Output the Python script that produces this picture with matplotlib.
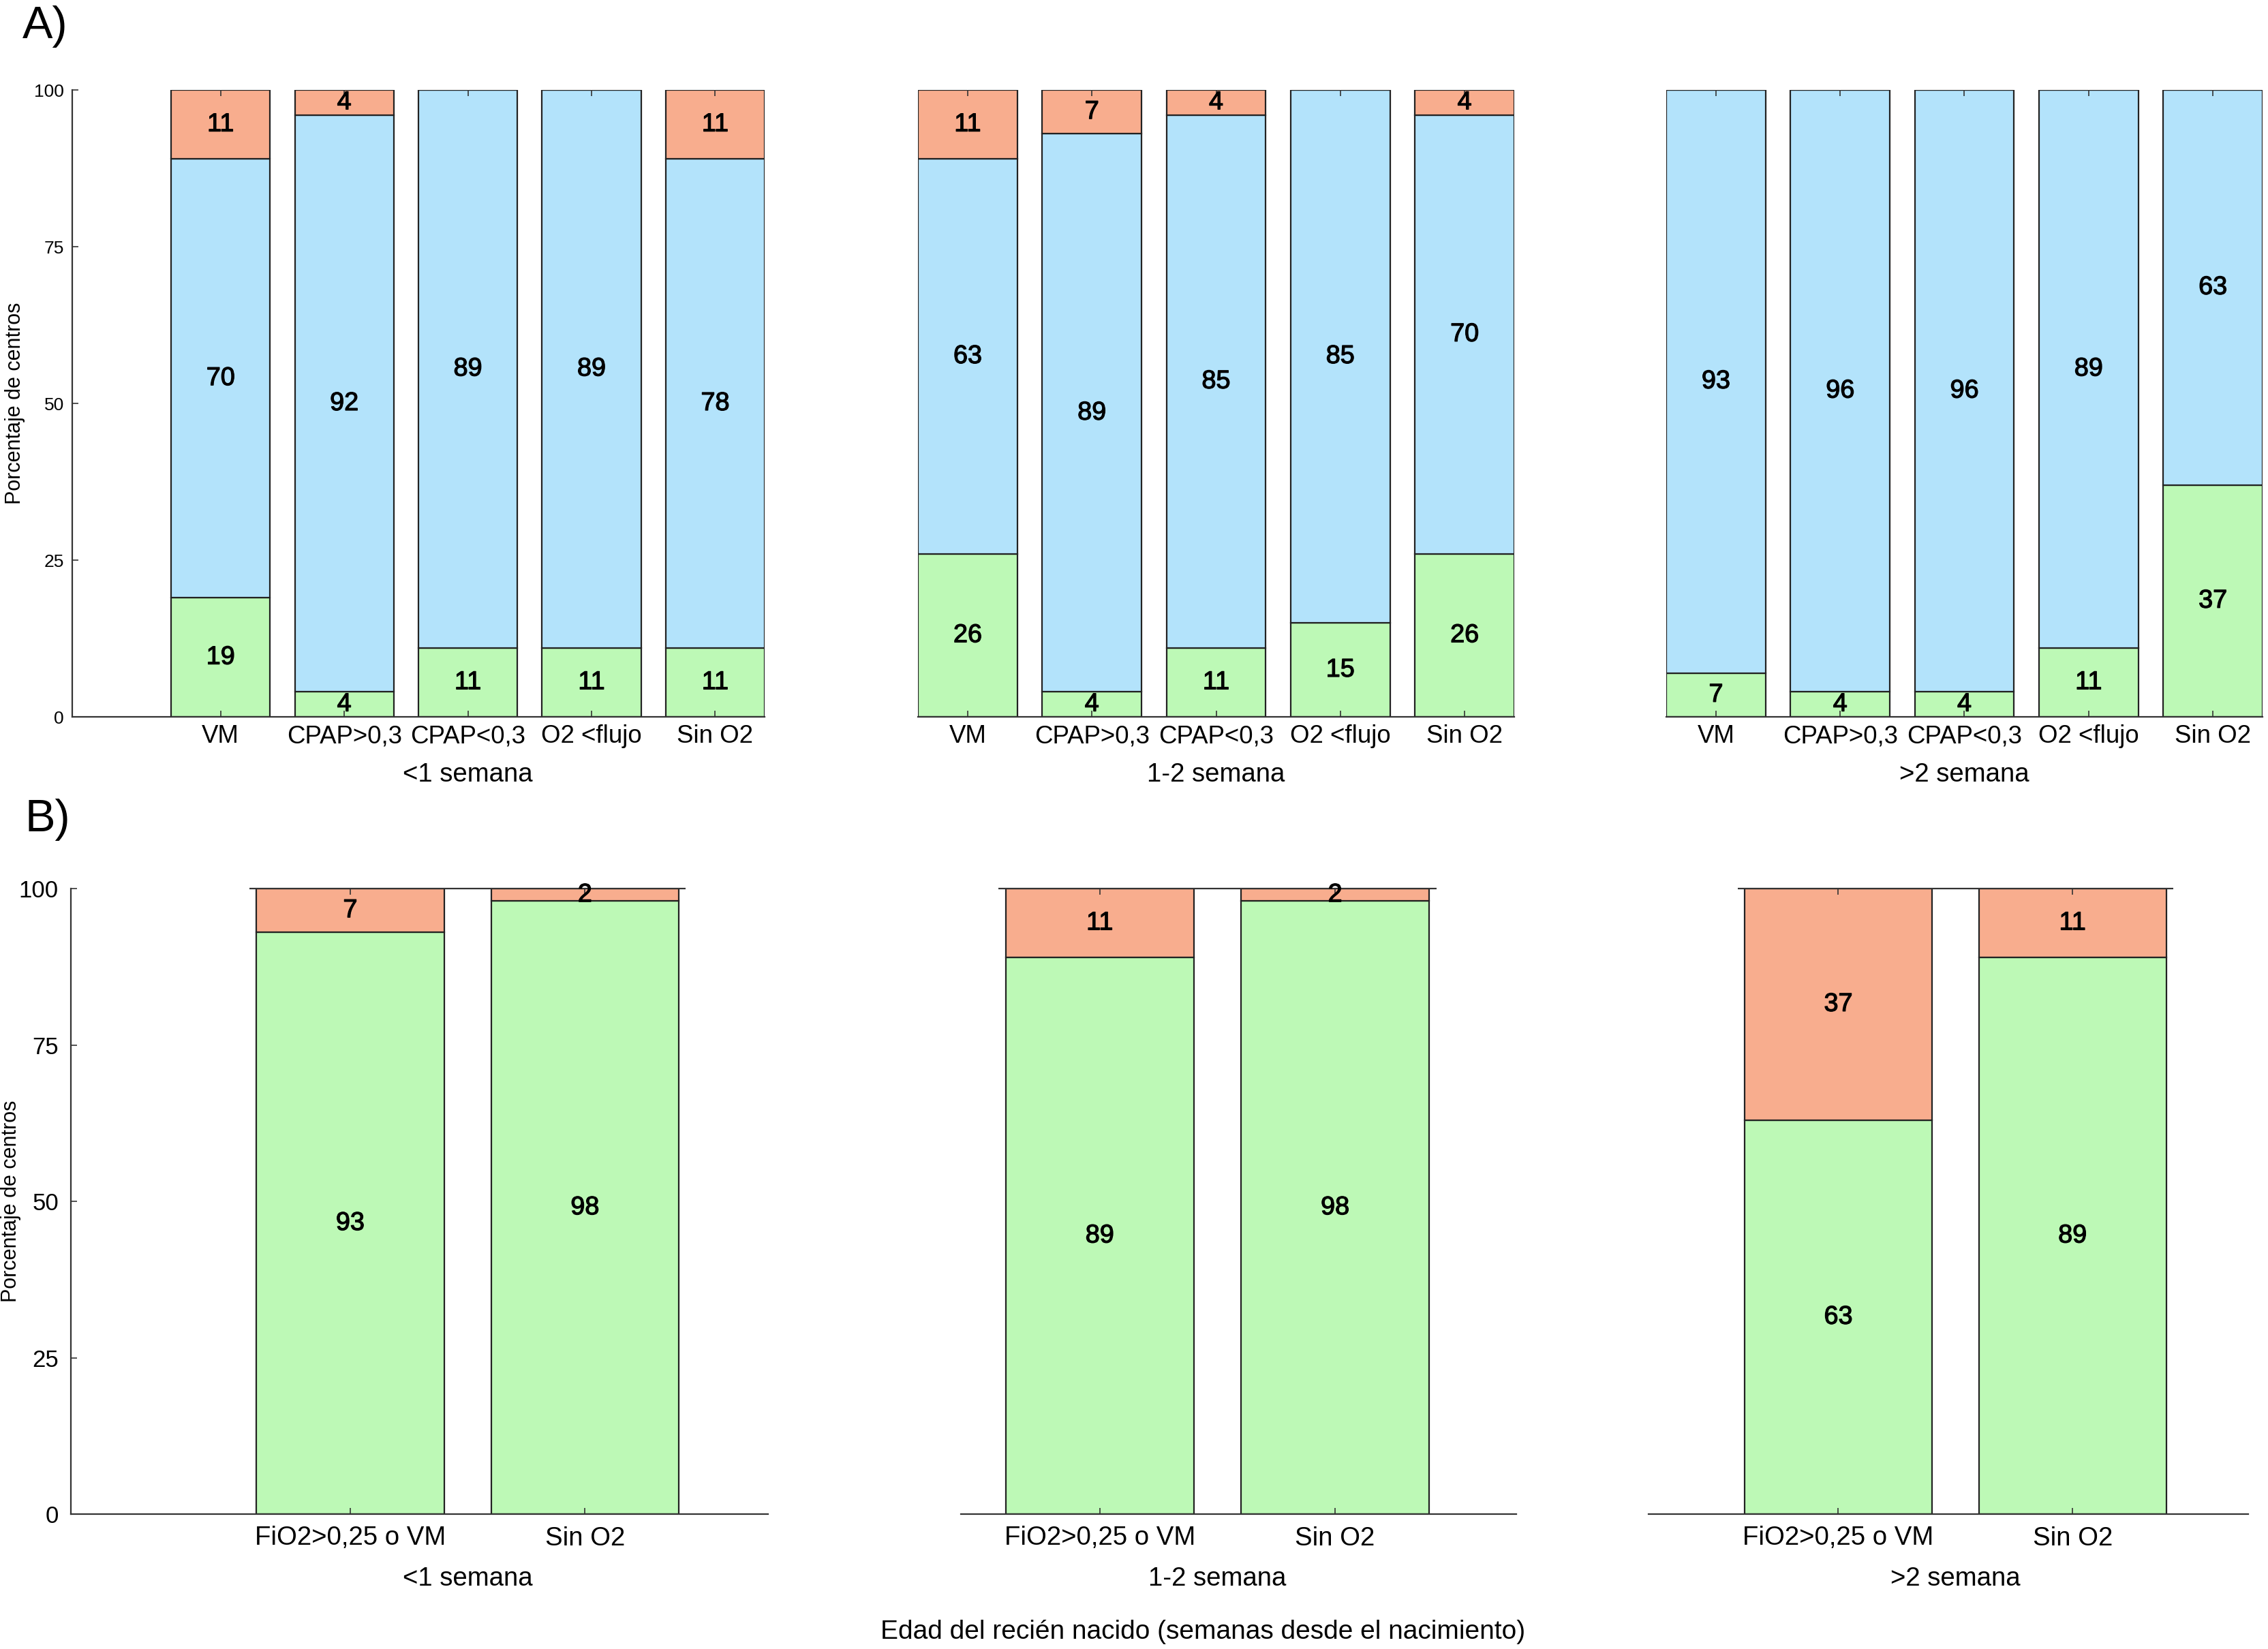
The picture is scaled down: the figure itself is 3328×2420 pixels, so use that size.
import matplotlib
matplotlib.use("Agg")
import matplotlib.pyplot as plt
import matplotlib.patheffects as pe
import numpy as np

plt.rcParams['font.family'] = ['Liberation Sans', 'DejaVu Sans']

# ---------------- data ----------------
groups = ['<1 semana', '1-2 semana', '>2 semana']

cats_A = ['VM', 'CPAP>0,3', 'CPAP<0,3', 'O2 <flujo', 'Sin O2']
green_A = [[19, 4, 11, 11, 11],
           [26, 4, 11, 15, 26],
           [7, 4, 4, 11, 37]]
blue_A = [[70, 92, 89, 89, 78],
          [63, 89, 85, 85, 70],
          [93, 96, 96, 89, 63]]
orange_A = [[11, 4, 0, 0, 11],
            [11, 7, 4, 0, 4],
            [0, 0, 0, 0, 0]]

cats_B = ['FiO2>0,25 o VM', 'Sin O2']
green_B = [[93, 98], [89, 98], [63, 89]]
orange_B = [[7, 2], [11, 2], [37, 11]]

yticks = [0, 25, 50, 75, 100]

# ---------------- style ----------------
C_GREEN = '#BDF9B6'
C_BLUE = '#B3E3FB'
C_ORANGE = '#F8AD8E'
EDGE = '#222222'
W, H, DPI = 3328, 2420, 200

fig = plt.figure(figsize=(W / DPI, H / DPI), dpi=DPI)

def px_axes(left, top, right, bottom):
    return fig.add_axes([left / W, 1 - bottom / H, (right - left) / W, (bottom - top) / H])

A_boxes = [(106, 132, 1122, 1052), (1347, 132, 2222, 1052), (2445, 132, 3320, 1052)]
A_xlims = [(-0.2, 5.4), (0.6, 5.4), (0.6, 5.4)]
B_boxes = [(104, 1304, 1127, 2222), (1410, 1304, 2225, 2222), (2419, 1304, 3299, 2222)]
B_xlims = [(-0.19, 2.78), (0.41, 2.77), (0.19, 2.75)]

VAL_FS = 13.6
TICK_FS_A = 13.2
TICK_FS_B = 13.8
GROUP_FS = 13.8
VAL_FX = [pe.withStroke(linewidth=0.45, foreground='black')]


def style_axis(ax, first, xlim, ytick_fs, ypad, xpad, xfs):
    ax.set_xlim(*xlim)
    ax.set_ylim(0, 100)
    for s in ['top', 'right']:
        ax.spines[s].set_visible(False)
    ax.spines['bottom'].set_linewidth(0.8)
    ax.spines['bottom'].set_color('#333333')
    if first:
        ax.spines['left'].set_linewidth(0.8)
        ax.spines['left'].set_color('#333333')
        ax.set_yticks(yticks)
        ax.tick_params(axis='y', direction='in', length=3.2, width=0.6,
                       labelsize=ytick_fs, pad=ypad, colors='#333333',
                       labelcolor='black')
    else:
        ax.spines['left'].set_visible(False)
        ax.set_yticks([])
    ax.tick_params(axis='x', direction='in', length=3.2, width=0.6, top=True,
                   bottom=True, labelsize=xfs, pad=xpad, colors='#333333',
                   labelcolor='black')


def label_segments(ax, x, bottoms, vals):
    for xi, b, v in zip(x, bottoms, vals):
        if v > 0:
            ax.text(xi, b + v / 2, str(v), ha='center', va='center',
                    fontsize=VAL_FS, color='black', path_effects=VAL_FX)


# ---------------- panel A ----------------
for i in range(3):
    ax = px_axes(*A_boxes[i])
    x = np.arange(1, len(cats_A) + 1)
    g = np.array(green_A[i])
    b = np.array(blue_A[i])
    o = np.array(orange_A[i])
    ax.bar(x, g, width=0.8, color=C_GREEN, edgecolor=EDGE, linewidth=0.8)
    ax.bar(x, b, width=0.8, bottom=g, color=C_BLUE, edgecolor=EDGE, linewidth=0.8)
    ax.bar(x, o, width=0.8, bottom=g + b, color=C_ORANGE, edgecolor=EDGE, linewidth=0.8)
    label_segments(ax, x, np.zeros_like(g), g)
    label_segments(ax, x, g, b)
    label_segments(ax, x, g + b, o)
    style_axis(ax, i == 0, A_xlims[i], 9.5, 4.3, 4.0, TICK_FS_A)
    ax.set_xticks(x)
    ax.set_xticklabels(cats_A)
    ax.annotate(groups[i], xy=(3, 0), xycoords=('data', 'axes fraction'),
                xytext=(0, -30.6), textcoords='offset points',
                ha='center', va='center', fontsize=GROUP_FS)
    if i == 0:
        ax.set_ylabel('Porcentaje de centros', fontsize=11)
        ax.yaxis.set_label_coords(-0.068, 0.5)

# ---------------- panel B ----------------
for i in range(3):
    ax = px_axes(*B_boxes[i])
    x = np.arange(1, len(cats_B) + 1)
    g = np.array(green_B[i])
    o = np.array(orange_B[i])
    ax.bar(x, g, width=0.8, color=C_GREEN, edgecolor=EDGE, linewidth=0.8)
    ax.bar(x, o, width=0.8, bottom=g, color=C_ORANGE, edgecolor=EDGE, linewidth=0.8)
    label_segments(ax, x, np.zeros_like(g), g)
    label_segments(ax, x, g, o)
    ax.hlines(100, 0.57, 2.43, color='#333333', linewidth=0.8, clip_on=False)
    style_axis(ax, i == 0, B_xlims[i], 12.5, 6.5, 6.3, TICK_FS_B)
    ax.set_xticks(x)
    ax.set_xticklabels(cats_B)
    ax.annotate(groups[i], xy=(1.5, 0), xycoords=('data', 'axes fraction'),
                xytext=(0, -34.2), textcoords='offset points',
                ha='center', va='center', fontsize=GROUP_FS)
    if i == 0:
        ax.set_ylabel('Porcentaje de centros', fontsize=11)
        ax.yaxis.set_label_coords(-0.071, 0.5)

fig.text(33 / W, 1 - 8 / H, 'A)', fontsize=24, ha='left', va='top')
fig.text(36 / W, 1 - 1172 / H, 'B)', fontsize=24, ha='left', va='top')
fig.text(1765 / W, 1 - 2395 / H, 'Edad del recién nacido (semanas desde el nacimiento)',
         fontsize=14.0, ha='center', va='center')

fig.savefig('out.png', dpi=DPI)
